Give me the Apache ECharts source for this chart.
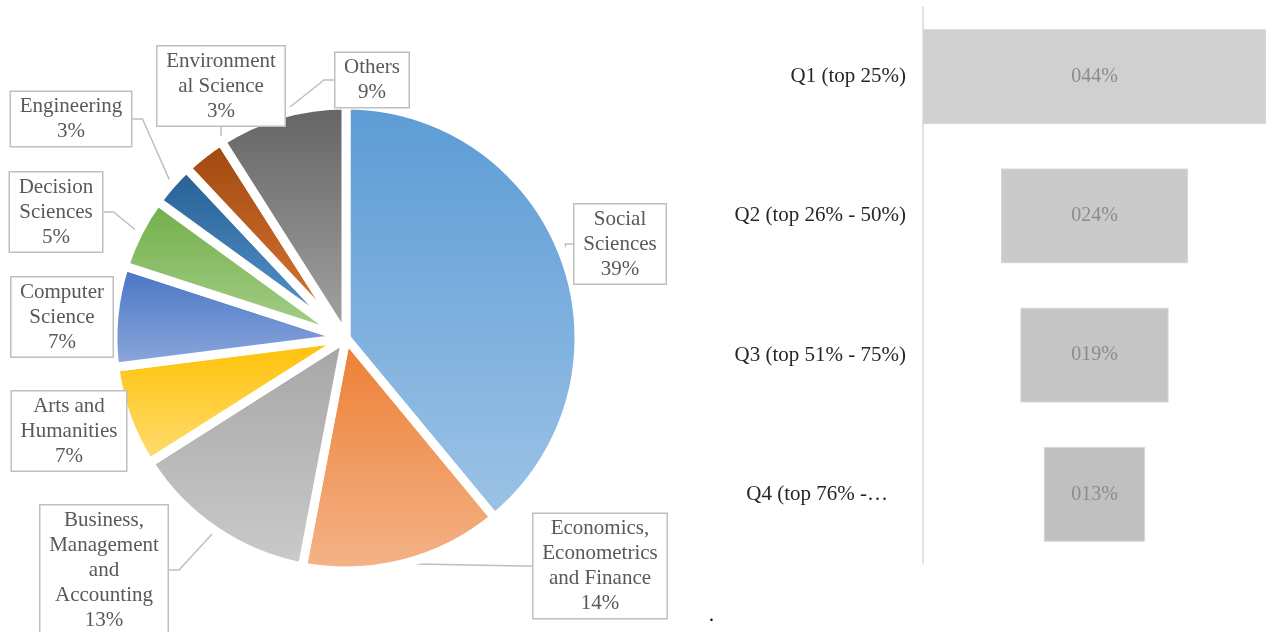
<!DOCTYPE html>
<html>
<head>
<meta charset="utf-8">
<script src="https://cdn.jsdelivr.net/npm/echarts@6/dist/echarts.min.js"></script>
<style>
html,body{margin:0;padding:0;background:#fff;}
#main{width:1270px;height:632px;}
</style>
</head>
<body>
<div id="main"></div>
<script>
// ---- data ----
const pieCategories = ['Social Sciences', 'Economics, Econometrics and Finance', 'Business, Management and Accounting', 'Arts and Humanities', 'Computer Science', 'Decision Sciences', 'Engineering', 'Environmental Science', 'Others'];
const pieLabelTexts = ['Social\nSciences', 'Economics,\nEconometrics\nand Finance', 'Business,\nManagement\nand\nAccounting', 'Arts and\nHumanities', 'Computer\nScience', 'Decision\nSciences', 'Engineering', 'Environment\nal Science', 'Others'];
const pieValues = [39, 14, 13, 7, 7, 5, 3, 3, 9];

const quartileLabels = ['Q1 (top 25%)', 'Q2 (top 26% - 50%)', 'Q3 (top 51% - 75%)', 'Q4 (top 76% -…'];
const quartileValues = [44, 24, 19, 13];

// ---- styles ----
const FONT = "'Liberation Serif', 'Times New Roman', serif";
const PIE_FONT_SIZE = 21;
const sliceGradients = [
  ['#5B9BD5', '#9DC3E6'],
  ['#ED7D31', '#F4B48A'],
  ['#A5A5A5', '#CBCBCB'],
  ['#FFC000', '#FFDD75'],
  ['#4472C4', '#8FAADC'],
  ['#70AD47', '#A9D18E'],
  ['#255E91', '#5B9BD5'],
  ['#9E480E', '#E07B39'],
  ['#636363', '#A5A5A5']
];
const barColors = ['#D0D0D0', '#CACACA', '#C5C5C5', '#C0C0C0'];
// label box centres (layout only)
const labelCenters = [
  [620, 244], [600, 566], [104, 570], [69, 431], [62, 317],
  [56, 212], [71, 119], [221, 86], [372, 80]
];

// measure text width so the callout boxes are not squeezed by the pie layout
const measureCtx = document.createElement('canvas').getContext('2d');
measureCtx.font = PIE_FONT_SIZE + 'px ' + FONT;
function textWidth(txt) {
  return Math.ceil(Math.max(...txt.split('\n').map(l => measureCtx.measureText(l).width))) + 1;
}

const chart = echarts.init(document.getElementById('main'), null, {renderer: 'canvas'});

const pieData = pieCategories.map((name, i) => ({
  name: name,
  value: pieValues[i],
  itemStyle: {
    color: new echarts.graphic.LinearGradient(0, 0, 0, 1, [
      {offset: 0, color: sliceGradients[i][0]},
      {offset: 1, color: sliceGradients[i][1]}
    ])
  },
  label: {
    formatter: pieLabelTexts[i] + '\n{d}%',
    width: textWidth(pieLabelTexts[i] + '\n' + pieValues[i] + '%')
  }
}));

const maxQ = Math.max(...quartileValues);

const option = {
  animation: false,
  backgroundColor: '#ffffff',
  textStyle: {fontFamily: FONT},
  grid: {left: 923, top: 7, width: 343, height: 557, containLabel: false},
  xAxis: {
    type: 'value', min: 0, max: maxQ,
    show: false
  },
  yAxis: {
    type: 'category',
    inverse: true,
    data: quartileLabels,
    axisLine: {show: true, lineStyle: {color: '#D9D9D9', width: 1.5}},
    axisTick: {show: false},
    splitLine: {show: false},
    axisLabel: {
      fontFamily: FONT, fontSize: 21, color: '#262626', margin: 17,
      formatter: function (v, idx) {
        return idx === 3 ? '{t|' + v + '}' : v;
      },
      rich: {t: {fontFamily: FONT, fontSize: 21, color: '#262626', padding: [0, 18, 0, 0]}}
    }
  },
  series: [
    {
      type: 'pie',
      center: [346, 338],
      radius: 233,
      startAngle: 90,
      clockwise: true,
      data: pieData,
      itemStyle: {borderColor: '#ffffff', borderWidth: 9},
      label: {
        show: true,
        position: 'outside',
        overflow: 'none',
        fontFamily: FONT,
        fontSize: PIE_FONT_SIZE,
        lineHeight: 25,
        color: '#595959',
        align: 'center',
        backgroundColor: '#ffffff',
        borderColor: '#BFBFBF',
        borderWidth: 1.5,
        padding: [3, 8, 1, 8]
      },
      labelLine: {show: true, length: 10, length2: 10, lineStyle: {color: '#BFBFBF', width: 1.5}},
      labelLayout: function (params) {
        const p = labelCenters[params.dataIndex];
        return {x: p[0], y: p[1], align: 'center', verticalAlign: 'middle'};
      },
      emphasis: {disabled: true}
    },
    {
      type: 'bar',
      stack: 'funnel',
      barCategoryGap: '32%',
      data: quartileValues.map(v => (maxQ - v) / 2),
      itemStyle: {color: 'rgba(0,0,0,0)'},
      silent: true
    },
    {
      type: 'bar',
      stack: 'funnel',
      barCategoryGap: '32%',
      data: quartileValues.map((v, i) => ({value: v, itemStyle: {color: barColors[i], borderColor: '#D6D6D6', borderWidth: 1}})),
      label: {
        show: true,
        position: 'inside',
        fontFamily: FONT,
        fontSize: 20,
        color: '#8C8C8C',
        formatter: p => String(p.value).padStart(3, '0') + '%'
      }
    }
  ],
  graphic: [
    {type: 'text', left: 709, top: 606, style: {text: '.', font: '20px ' + FONT, fill: '#000'}}
  ]
};
chart.setOption(option);
</script>
</body>
</html>
